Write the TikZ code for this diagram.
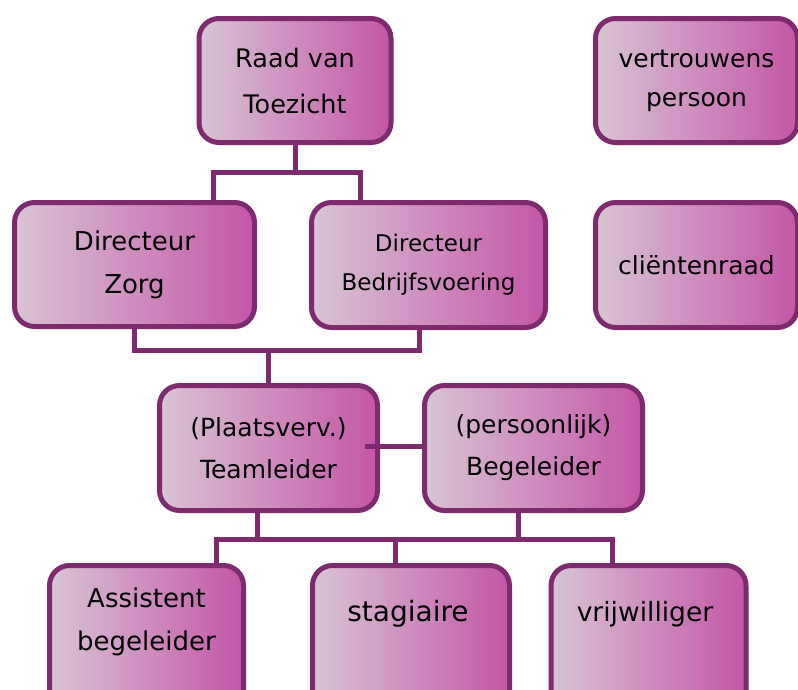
\documentclass[tikz,border=0pt]{standalone}
\usepackage{fontspec}
\setmainfont{DejaVu Sans}
\definecolor{bord}{RGB}{125,42,110}
\definecolor{gl}{RGB}{216,196,213}
\definecolor{gr}{RGB}{196,86,168}
\tikzset{
  box/.style={draw=bord, line width=5pt, rounded corners=20pt, left color=gl, right color=gr,
    inner sep=0pt, align=center, text=black},
  conn/.style={draw=bord, line width=5pt},
  txt/.style={align=center, text=black, inner sep=0pt}
}
\begin{document}
\begin{tikzpicture}[x=1pt,y=-1pt]
\useasboundingbox (0,0) rectangle (798,689);
\clip (0,0) rectangle (798,689);
% top row
\node[box, minimum width=192pt, minimum height=124pt, font=\fontsize{25.5}{46}\selectfont] (raad) at (295,80.5) {Raad van\\Toezicht};
\node[box, minimum width=202pt, minimum height=124pt, font=\fontsize{25}{39}\selectfont] (vert) at (696.5,80.5) {vertrouwens\\persoon};
% second row
\node[box, minimum width=240pt, minimum height=124pt, font=\fontsize{26}{43}\selectfont] (zorg) at (134.5,264.5) {Directeur\\Zorg};
\node[box, minimum width=234pt, minimum height=125pt, font=\fontsize{23}{39}\selectfont] (bedr) at (428.5,265) {Directeur\\Bedrijfsvoering};
\node[box, minimum width=202pt, minimum height=125pt, font=\fontsize{25}{38}\selectfont] (client) at (696.5,265) {cliëntenraad};
% third row
\node[box, minimum width=218pt, minimum height=125pt, font=\fontsize{25}{42}\selectfont] (team) at (268.5,448) {(Plaatsverv.)\\Teamleider};
\node[box, minimum width=218pt, minimum height=125pt, font=\fontsize{25}{42}\selectfont] (beg) at (533.5,448) {(persoonlijk)\\Begeleider};
% bottom row
\node[box, minimum width=194pt, minimum height=150pt] (assist) at (146.5,640.5) {};
\node[txt, font=\fontsize{26}{43}\selectfont] (assistT) at (146.5,622) {Assistent\\begeleider};
\node[box, minimum width=197pt, minimum height=150pt] (stag) at (411,640.5) {};
\node[txt, font=\fontsize{28}{43}\selectfont] (stagT) at (408,614) {stagiaire};
\node[box, minimum width=195pt, minimum height=150pt] (vrij) at (648.5,640.5) {};
\node[txt, font=\fontsize{26.5}{43}\selectfont] (vrijT) at (645,614) {vrijwilliger};
% connectors level 1
\coordinate (j1) at (0,172);
\coordinate (b1L) at (213,172);
\coordinate (b1R) at (360,172);
\draw[conn] (raad.south) -- (raad.south |- j1);
\draw[conn] (b1L |- zorg.north) -- (b1L) -- (b1R) -- (b1R |- bedr.north);
% connectors level 2
\coordinate (j2) at (0,350);
\coordinate (b2R) at (419,350);
\draw[conn] (zorg.south) -- (zorg.south |- j2) -- (b2R) -- (b2R |- bedr.south);
\draw[conn] (team.north |- j2) -- (team.north);
% level 3 side connector
\draw[conn] ([xshift=-15pt]team.east |- 0,446) -- (beg.west |- 0,446);
% level 4
\coordinate (b4L) at (216,539);
\coordinate (b4M) at (395,539);
\coordinate (b4R) at (612,539);
\coordinate (t4) at (257,539);
\coordinate (g4) at (518,539);
\draw[conn] (t4 |- team.south) -- (t4);
\draw[conn] (g4 |- beg.south) -- (g4);
\draw[conn] (b4L |- assist.north) -- (b4L) -- (b4R) -- (b4R |- vrij.north);
\draw[conn] (b4M) -- (b4M |- stag.north);
\end{tikzpicture}
\end{document}
